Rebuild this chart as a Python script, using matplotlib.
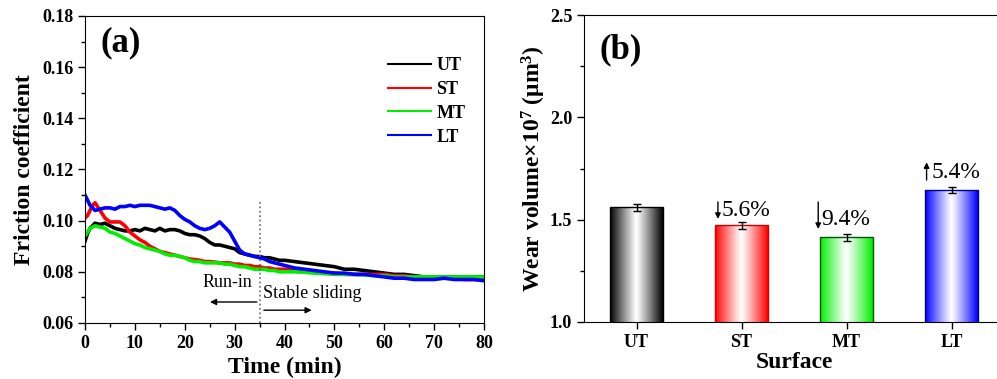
import numpy as np
import matplotlib
matplotlib.use("Agg")
import matplotlib.pyplot as plt

plt.rcParams['font.family'] = ['Liberation Serif', 'DejaVu Serif']
plt.rcParams['mathtext.fontset'] = 'custom'
plt.rcParams['mathtext.rm'] = 'Liberation Serif:bold'
plt.rcParams['mathtext.bf'] = 'Liberation Serif:bold'
plt.rcParams['mathtext.default'] = 'bf'

# ---- data: friction coefficient vs time ----
time_min = ([0, 0.5, 1, 1.5, 2] + list(range(3, 41)) + list(range(42, 81, 2)))

cof_ut = ([0.092, 0.095, 0.097, 0.098, 0.099]
          + [0.0985, 0.099, 0.098, 0.097, 0.0965, 0.096, 0.096, 0.0965, 0.096, 0.097,
             0.0965, 0.096, 0.097, 0.096, 0.0965, 0.0965, 0.096, 0.095, 0.0945, 0.0945,
             0.094, 0.093, 0.0915, 0.0905, 0.0905, 0.090, 0.0895, 0.089, 0.0875, 0.087,
             0.0865, 0.086, 0.086, 0.0855, 0.0855, 0.085, 0.0845, 0.0845]
          + [0.084, 0.0835, 0.083, 0.0825, 0.082, 0.081, 0.081, 0.0805, 0.080, 0.0795,
             0.079, 0.079, 0.0785, 0.078, 0.078, 0.078, 0.078, 0.078, 0.078, 0.078])

cof_st = ([0.101, 0.102, 0.104, 0.106, 0.107]
          + [0.104, 0.101, 0.0995, 0.0995, 0.0995, 0.098, 0.0955, 0.094, 0.0925, 0.0915,
             0.090, 0.089, 0.088, 0.0875, 0.087, 0.0865, 0.086, 0.0855, 0.085, 0.0848,
             0.0845, 0.084, 0.084, 0.0838, 0.0835, 0.0835, 0.0835, 0.083, 0.083, 0.0825,
             0.0825, 0.082, 0.082, 0.0815, 0.0815, 0.081, 0.081, 0.081]
          + [0.0805, 0.080, 0.080, 0.0795, 0.0795, 0.079, 0.079, 0.079, 0.079, 0.079,
             0.0785, 0.0785, 0.078, 0.078, 0.078, 0.0775, 0.0775, 0.077, 0.077, 0.077])

cof_mt = ([0.094, 0.0955, 0.097, 0.0975, 0.098]
          + [0.0975, 0.097, 0.0955, 0.095, 0.094, 0.093, 0.092, 0.091, 0.0905, 0.0895,
             0.089, 0.0885, 0.088, 0.087, 0.0865, 0.0865, 0.086, 0.0855, 0.0845, 0.084,
             0.084, 0.0835, 0.0835, 0.0835, 0.0835, 0.083, 0.083, 0.0825, 0.082, 0.082,
             0.0815, 0.081, 0.081, 0.081, 0.0805, 0.0805, 0.080, 0.080]
          + [0.080, 0.0798, 0.0795, 0.0793, 0.079, 0.079, 0.079, 0.0788, 0.0785, 0.0785,
             0.078, 0.078, 0.078, 0.078, 0.078, 0.078, 0.078, 0.078, 0.078, 0.078])

cof_lt = ([0.110, 0.108, 0.106, 0.105, 0.104]
          + [0.1045, 0.105, 0.105, 0.1045, 0.1055, 0.1055, 0.106, 0.1055, 0.106, 0.106,
             0.106, 0.1055, 0.105, 0.1045, 0.105, 0.104, 0.102, 0.1005, 0.0995, 0.098,
             0.097, 0.0965, 0.097, 0.098, 0.0995, 0.0975, 0.0955, 0.092, 0.0885, 0.087,
             0.0865, 0.086, 0.0855, 0.085, 0.084, 0.0835, 0.083, 0.0825]
          + [0.0815, 0.081, 0.0805, 0.080, 0.0795, 0.0795, 0.079, 0.079, 0.0785, 0.078,
             0.0775, 0.0775, 0.077, 0.077, 0.077, 0.0775, 0.077, 0.077, 0.077, 0.0765])

series_names = ['UT', 'ST', 'MT', 'LT']
series_colors = ['black', '#ff0000', '#00ee00', '#0000ff']
run_in_end = 35

# ---- data: wear volume ----
surfaces = ['UT', 'ST', 'MT', 'LT']
wear_volume = [1.56, 1.472, 1.413, 1.643]
wear_err = [0.018, 0.018, 0.015, 0.015]
change_labels = [None, '5.6%', '9.4%', '5.4%']
bar_edges = ['black', '#cc0000', '#005500', '#000080']

fig = plt.figure(figsize=(9.97, 3.79), dpi=100)

# ================= (a) friction =================
ax1 = fig.add_axes([0.0853, 0.1478, 0.4002, 0.81])
for vals, name, col in zip([cof_ut, cof_st, cof_mt, cof_lt], series_names, series_colors):
    ax1.plot(time_min, vals, color=col, lw=2.6, label=name)

ax1.plot([run_in_end, run_in_end], [0.06, 0.108], ls=':', color='#666666', lw=1.2)
ax1.text(33.6, 0.0757, 'Run-in', ha='right', va='center', fontsize=13)
ax1.text(35.6, 0.0715, 'Stable sliding', ha='left', va='center', fontsize=13)
ax1.annotate('', xy=(24.5, 0.0682), xytext=(run_in_end, 0.0682),
             arrowprops=dict(arrowstyle='-|>', lw=1, color='black', mutation_scale=9))
ax1.annotate('', xy=(46, 0.0650), xytext=(run_in_end + 0.3, 0.0650),
             arrowprops=dict(arrowstyle='-|>', lw=1, color='black', mutation_scale=9))

ax1.text(3.0, 0.166, '(a)', fontsize=25, fontweight='bold')

ax1.set_xlim(0, 80)
ax1.set_ylim(0.06, 0.18)
ax1.set_xticks(range(0, 81, 10))
ax1.set_xticks(range(5, 80, 10), minor=True)
ax1.set_yticks(np.arange(0.06, 0.181, 0.02))
ax1.set_yticks(np.arange(0.07, 0.18, 0.02), minor=True)
ax1.set_yticklabels(['%.2f' % v for v in np.arange(0.06, 0.181, 0.02)])
ax1.tick_params(which='major', direction='out', length=5, width=1, labelsize=13)
ax1.tick_params(which='minor', direction='out', length=3, width=1)
for lab in ax1.get_xticklabels() + ax1.get_yticklabels():
    lab.set_fontweight('bold')
ax1.set_xlabel('Time (min)', fontsize=17, fontweight='bold', labelpad=4)
ax1.set_ylabel('Friction coefficient', fontsize=17, fontweight='bold', labelpad=5)

leg = ax1.legend(loc='upper left', bbox_to_anchor=(0.74, 0.89), frameon=False,
                 prop={'weight': 'bold', 'size': 13}, handlelength=2.4,
                 handletextpad=0.3, labelspacing=0.38, borderaxespad=0)
for line in leg.get_lines():
    line.set_linewidth(1.5)

# ================= (b) wear volume =================
ax2 = fig.add_axes([0.5858, 0.1504, 0.4213, 0.81])
x = np.arange(len(surfaces))
bar_w = 0.5
bars = ax2.bar(x, wear_volume, width=bar_w, facecolor='none', edgecolor=bar_edges,
               linewidth=1.0, zorder=3)
g = np.abs(np.linspace(-1, 1, 200)) ** 1.1
for b, col in zip(bars, series_colors):
    rgb = np.array(matplotlib.colors.to_rgb(col))
    img = (1 - g)[:, None] * np.ones(3) + g[:, None] * rgb
    img = img[None, :, :]
    x0 = b.get_x()
    ax2.imshow(img, extent=(x0, x0 + bar_w, 1.0, b.get_height()), aspect='auto',
               zorder=2, interpolation='bilinear')
ax2.errorbar(x, wear_volume, yerr=wear_err, fmt='none', ecolor='black',
             elinewidth=1, capsize=3, capthick=1, zorder=4)

arrow_kw = dict(arrowstyle='-|>', lw=1, color='black', mutation_scale=8)
# ST: down arrow
ax2.annotate('', xy=(1 - 0.225, 1.49), xytext=(1 - 0.225, 1.60), arrowprops=arrow_kw)
ax2.text(1 - 0.195, 1.547, change_labels[1], fontsize=17, va='center', ha='left',
         family='Liberation Serif')
# MT: down arrow
ax2.annotate('', xy=(2 - 0.27, 1.441), xytext=(2 - 0.27, 1.60), arrowprops=arrow_kw)
ax2.text(2 - 0.24, 1.501, change_labels[2], fontsize=17, va='center', ha='left',
         family='Liberation Serif')
# LT: up arrow
ax2.annotate('', xy=(3 - 0.238, 1.794), xytext=(3 - 0.238, 1.68), arrowprops=arrow_kw)
ax2.text(3 - 0.19, 1.729, change_labels[3], fontsize=17, va='center', ha='left',
         family='Liberation Serif')

ax2.text(-0.35, 2.288, '(b)', fontsize=25, fontweight='bold')

ax2.set_xlim(-0.5, 3.5)
ax2.set_ylim(1.0, 2.5)
ax2.set_xticks(x)
ax2.set_xticklabels(surfaces)
ax2.set_yticks([1.0, 1.5, 2.0, 2.5])
ax2.set_yticks([1.25, 1.75, 2.25], minor=True)
ax2.tick_params(which='major', direction='out', length=5, width=1, labelsize=13)
ax2.tick_params(which='minor', direction='out', length=3, width=1)
for lab in ax2.get_xticklabels() + ax2.get_yticklabels():
    lab.set_fontweight('bold')
ax2.set_xlabel('Surface', fontsize=17, fontweight='bold', labelpad=1)
ax2.set_ylabel(r'Wear volume$\times$10$^{7}$ ($\mu$m$^{3}$)', fontsize=17,
               fontweight='bold', labelpad=1)

fig.savefig('out.png', dpi=100)
